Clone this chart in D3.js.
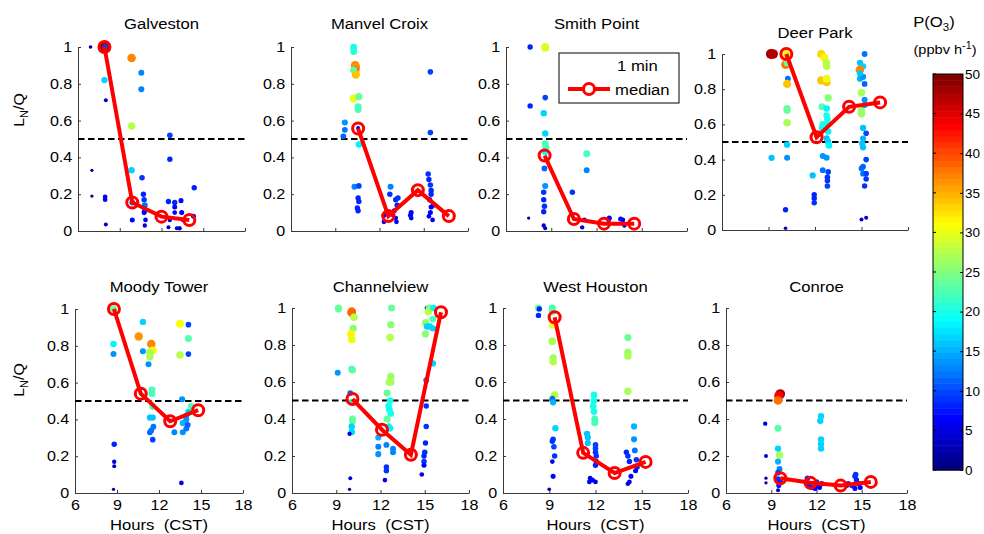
<!DOCTYPE html>
<html><head><meta charset="utf-8">
<script src="https://cdn.jsdelivr.net/npm/d3@7"></script>
<style>body{margin:0;background:#fff;} text{font-family:"Liberation Sans",Arial,Helvetica,sans-serif;fill:#000;}</style>
</head><body><svg id="c" width="984" height="534"></svg>
<script>
// ---------- DATA ----------
const stations = ["Galveston","Manvel Croix","Smith Point","Deer Park","Moody Tower","Channelview","West Houston","Conroe"];
const hourTicks = [6,9,12,15,18];
const ratioTicks = [0,0.2,0.4,0.6,0.8,1];
const colorTicks = [0,5,10,15,20,25,30,35,40,45,50];
const threshold = 0.5;
// dots: [hour, LN/Q, P(O3)]
const galvestonDots = [[6.9,1.0,3],[7.9,1.0,48],[7.95,1.0,10],[7.9,0.82,17],[8.0,0.71,4],[7.0,0.33,2],[7.0,0.19,2],[7.95,0.185,6],[7.95,0.17,6],[8.0,0.035,4],
[9.85,0.94,37],[9.85,0.57,28],[9.85,0.33,17],[9.9,0.155,12],[9.9,0.06,7],
[10.55,0.86,13],[10.55,0.77,13],[10.6,0.29,9],[10.7,0.2,8],[10.75,0.17,9],[10.8,0.14,12],[10.8,0.11,8],[10.75,0.1,7],[10.85,0.06,6],[10.8,0.03,5],
[12.6,0.52,10],[12.6,0.39,8],[12.5,0.16,8],[12.95,0.155,8],[12.95,0.13,7],[12.95,0.1,6],[12.6,0.06,5],[12.5,0.02,4],[13.4,0.165,7],[13.45,0.1,7],[13.55,0.06,6],[13.3,0.015,5],[13.1,0.015,4],
[14.35,0.235,8],[14.3,0.08,7]];
const galvestonMedian = [[7.9,1.0],[9.9,0.155],[12.0,0.078],[14.0,0.06]];

const manvelDots = [[10.25,1.0,20],[10.25,0.99,20],[10.25,0.975,21],[10.35,0.9,37],[10.4,0.89,36],[10.35,0.875,38],[10.25,0.875,22],[10.4,0.85,34],[10.25,0.72,30],[10.6,0.73,24],[10.55,0.675,22],[10.55,0.66,22],
[9.65,0.59,14],[9.65,0.55,12],[9.55,0.515,11],[10.55,0.56,4],[10.6,0.47,18],
[10.3,0.24,13],[10.6,0.245,10],[10.55,0.18,8],[10.6,0.16,8],[10.5,0.125,8],[10.55,0.11,8],
[12.75,0.24,13],[12.7,0.2,9],[13.1,0.17,8],[13.2,0.14,8],[13.0,0.11,7],[12.9,0.09,7],[13.1,0.07,6],[13.15,0.05,6],[12.3,0.05,6],[12.3,0.085,7],[13.25,0.18,9],
[14.15,0.1,7],[14.15,0.07,6],[14.1,0.085,7],
[15.45,0.865,10],[15.45,0.535,10],[15.3,0.31,9],[15.35,0.28,8],[15.45,0.25,9],[15.5,0.22,8],[15.5,0.2,8],[15.4,0.17,8],[15.5,0.13,7],[15.45,0.1,7],[15.6,0.06,6],[15.35,0.08,6],[15.65,0.14,7]];
const manvelMedian = [[10.55,0.557],[12.6,0.081],[14.6,0.222],[16.7,0.081]];

const smithDots = [[7.6,1.0,8],[8.6,1.0,30],[8.6,0.995,29],[7.6,0.68,8],[8.6,0.725,10],[8.5,0.64,17],[8.6,0.53,17],[8.6,0.475,22],[8.65,0.455,22],[8.6,0.43,19],[8.55,0.34,11],[8.6,0.245,14],[8.5,0.21,9],[8.5,0.17,8],[8.55,0.135,9],[8.5,0.105,8],[8.5,0.03,5],[8.6,0.015,4],[7.5,0.07,2],
[11.35,0.42,22],[11.35,0.33,13],[10.4,0.21,9],[11.2,0.06,6],[11.05,0.02,5],
[12.85,0.07,7],[12.8,0.06,6],[13.75,0.06,6],[13.85,0.03,5],[13.6,0.065,7]];
const smithMedian = [[8.56,0.41],[10.5,0.065],[12.5,0.04],[14.5,0.04]];

const deerDots = [[9.15,1.0,48],[9.3,1.0,47],[10.15,1.0,30],[10.1,0.94,38],[10.2,0.95,24],[10.25,0.86,12],[10.2,0.83,34],[10.2,0.69,24],[10.2,0.68,24],[10.2,0.61,27],[10.2,0.485,17],[9.2,0.41,16],[10.2,0.41,14],[10.1,0.115,8],[10.1,0.01,3],
[12.4,1.0,33],[12.6,0.98,32],[12.75,0.95,28],[12.75,0.93,28],[12.4,0.85,34],[12.75,0.84,34],[12.75,0.86,30],[12.85,0.75,25],[12.45,0.7,23],[12.75,0.69,18],[12.75,0.65,20],[12.8,0.63,20],[12.5,0.6,20],[12.75,0.6,19],[12.45,0.58,20],[12.85,0.56,18],[12.75,0.52,16],[12.85,0.5,17],[12.9,0.48,18],
[11.85,0.31,16],[12.5,0.42,14],[12.75,0.41,14],[12.5,0.34,12],[12.85,0.33,10],[12.8,0.3,9],[12.8,0.28,9],[12.8,0.25,10],[11.95,0.2,8],[11.95,0.18,8],[11.95,0.155,9],
[14.9,0.95,16],[15.2,1.0,12],[15.1,0.93,17],[14.9,0.91,37],[14.9,0.86,15],[15.1,0.87,14],[14.9,0.89,16],[15.2,0.83,11],[15.0,0.78,27],[15.0,0.68,26],[15.0,0.66,26],[15.2,0.74,14],[15.2,0.71,14],[15.1,0.58,16],[15.3,0.55,10],[15.1,0.52,15],[15.05,0.49,16],[15.1,0.47,16],[15.3,0.4,10],[15.0,0.35,12],[15.1,0.32,12],[15.3,0.32,10],[15.3,0.29,9],[15.2,0.25,9],[15.0,0.06,4],[15.3,0.07,4],[15.1,0.36,11]];
const deerMedian = [[10.15,1.0],[12.1,0.527],[14.2,0.70],[16.2,0.725]];

const moodyDots = [[8.75,1.0,24],[8.75,0.81,18],[8.75,0.755,14],[8.8,0.265,8],[8.8,0.17,5],[8.8,0.145,4],[8.75,0.02,2],
[10.85,0.93,17],[10.55,0.85,36],[10.85,0.77,14],[11.45,0.81,37],[11.55,0.775,32],[11.35,0.765,27],[11.35,0.74,27],[11.25,0.7,14],[11.5,0.56,22],[11.5,0.54,22],[11.55,0.47,22],[11.35,0.41,16],[11.55,0.41,16],[11.6,0.36,12],[11.35,0.33,11],[11.45,0.34,12],[11.55,0.29,10],
[13.1,0.33,13],[13.5,0.92,31],[13.5,0.75,28],[14.1,0.915,10],[14.1,0.755,10],[14.1,0.84,23],[13.65,0.51,14],[13.7,0.38,15],[13.7,0.33,14],[13.95,0.42,15],[13.95,0.4,14],[13.95,0.35,12],[14.05,0.37,11],[14.1,0.44,16],[14.3,0.47,22],[13.6,0.055,6]];
const moodyMedian = [[8.78,1.0],[10.7,0.54],[12.8,0.39],[14.8,0.45]];

const channelDots = [[9.15,1.0,24],[9.15,0.995,24],[9.1,0.65,14],[10.05,0.98,38],[10.05,0.975,39],[10.2,0.95,28],[10.15,0.89,25],[10.0,0.86,32],[10.05,0.83,30],[10.05,0.67,23],[10.1,0.665,23],[9.95,0.54,11],[10.05,0.49,20],[10.1,0.4,24],[10.1,0.39,24],[10.05,0.36,17],[10.05,0.33,17],[9.9,0.32,5],[9.95,0.08,4],[9.9,0.02,2],
[12.75,1.0,24],[12.7,0.91,25],[12.65,0.84,28],[12.7,0.63,26],[12.7,0.6,27],[12.6,0.6,27],[12.45,0.54,24],[12.65,0.5,20],[12.55,0.47,20],[12.6,0.45,19],[12.7,0.43,20],[12.45,0.4,24],[12.65,0.35,18],[12.55,0.36,18],[11.85,0.3,15],[11.85,0.25,13],[11.85,0.21,14],[12.4,0.26,13],[12.85,0.24,13],[12.85,0.22,13],[12.4,0.14,9],[12.4,0.12,9],[12.3,0.07,6],
[15.15,1.0,6],[15.3,1.0,24],[15.25,0.98,28],[15.05,0.92,26],[15.05,0.86,25],[15.15,0.9,17],[15.35,0.9,17],[15.6,1.0,18],[15.55,0.94,22],[15.55,0.89,17],[15.55,0.7,17],[15.1,0.61,13],[15.1,0.47,9],[15.1,0.36,9],[15.05,0.27,8],[15.0,0.22,9],[14.95,0.2,8],[14.95,0.17,9],[14.95,0.15,7],[14.8,0.1,6]];
const channelMedian = [[10.1,0.508],[12.1,0.342],[14.06,0.207],[16.1,0.977]];

const westDots = [[8.3,1.0,24],[8.35,0.995,8],[8.3,0.96,8],[9.2,1.0,22],[9.2,0.98,23],[9.25,0.91,30],[9.2,0.82,28],[9.2,0.82,27],[9.25,0.73,26],[9.25,0.71,28],[9.35,0.53,28],[9.2,0.51,12],[9.25,0.49,15],[9.4,0.35,17],[9.25,0.29,9],[9.2,0.28,9],[9.3,0.25,10],[9.35,0.2,9],[9.2,0.17,6],[9.25,0.09,7],[9.0,0.02,3],
[11.9,0.53,20],[11.9,0.5,20],[11.85,0.47,20],[11.9,0.44,20],[11.95,0.4,22],[11.95,0.38,22],[11.45,0.32,16],[11.5,0.3,16],[11.5,0.27,16],[12.0,0.26,10],[12.0,0.24,10],[12.0,0.22,9],[12.05,0.2,9],[12.05,0.17,8],[12.0,0.15,8],[11.65,0.08,6],[11.8,0.07,7],[12.0,0.06,6],[11.6,0.06,6],
[14.1,0.84,24],[14.1,0.76,26],[14.1,0.74,27],[14.1,0.55,27],[14.5,0.36,15],[14.5,0.29,14],[14.55,0.23,12],[14.0,0.22,8],[14.1,0.2,9],[14.2,0.17,8],[14.3,0.09,7],[14.2,0.06,6],[14.1,0.05,6],[14.65,0.18,9],[14.7,0.14,8],[14.6,0.12,7]];
const westMedian = [[9.35,0.95],[11.2,0.217],[13.24,0.108],[15.25,0.168]];

const conroeDots = [[8.6,0.375,5],[8.65,0.2,4],[8.65,0.08,2],[8.65,0.055,2],
[9.6,0.535,47],[9.5,0.525,43],[9.45,0.5,38],[9.45,0.35,23],[9.55,0.205,27],[9.45,0.24,17],[9.45,0.17,15],[9.55,0.13,13],[9.45,0.11,10],[9.45,0.075,9],[9.5,0.04,7],[9.45,0.015,4],[9.6,0.06,8],
[11.4,0.08,9],[11.45,0.05,8],[11.7,0.03,7],[12.0,0.04,7],[11.9,0.025,7],[12.2,0.03,7],[12.35,0.05,8],[12.0,0.06,8],[11.5,0.035,8],
[12.3,0.415,17],[12.25,0.39,17],[12.3,0.29,17],[12.3,0.265,17],[12.3,0.24,17],
[14.55,0.09,9],[14.65,0.07,8],[14.8,0.05,8],[14.35,0.04,8],[14.9,0.03,7],[14.55,0.025,7],[14.0,0.04,7],[14.1,0.05,8],[14.6,0.1,9]];
const conroeMedian = [[9.6,0.08],[11.6,0.055],[13.6,0.04],[15.6,0.06]];

const allDots = [galvestonDots,manvelDots,smithDots,deerDots,moodyDots,channelDots,westDots,conroeDots];
const allMedians = [galvestonMedian,manvelMedian,smithMedian,deerMedian,moodyMedian,channelMedian,westMedian,conroeMedian];

// ---------- LAYOUT ----------
const layout = [
  {x0:78,x1:245,yb:231,yt:47,ty:29,bottom:false},
  {x0:291,x1:468,yb:231,yt:47,ty:29,bottom:false},
  {x0:506,x1:687,yb:231,yt:47,ty:29,bottom:false},
  {x0:722,x1:908,yb:230,yt:54,ty:38,bottom:false},
  {x0:75,x1:243,yb:493,yt:309,ty:292,bottom:true},
  {x0:292,x1:469,yb:493,yt:308,ty:292,bottom:true},
  {x0:503,x1:688,yb:493,yt:308,ty:292,bottom:true},
  {x0:726,x1:907,yb:493,yt:308,ty:292,bottom:true}
];
const SX = 1.15; // horizontal stretch of the reference text
const FONT = "'Liberation Sans',Arial,sans-serif";

const svg = d3.select("#c");
const clamp = v => Math.max(0, Math.min(1, v));
function jet(p){
  let idx = Math.max(0, Math.min(63, Math.floor(p/50*64)));
  const t = idx/63;
  const r = clamp(1.5 - Math.abs(4*t-3)), g = clamp(1.5 - Math.abs(4*t-2)), b = clamp(1.5 - Math.abs(4*t-1));
  return d3.rgb(r*255, g*255, b*255).toString();
}
const rScale = d3.scaleLinear().domain([0,8,50]).range([1.3,2.7,5.0]).clamp(true);
const fmtY = d => d===0?"0":d===1?"1":d.toFixed(1);

function stretchTicks(sel, sx){
  sel.selectAll(".tick text").style("font-size","14px").style("font-family",FONT).attr("fill","#000")
    .attr("transform",`scale(${sx},1)`);
}
function label(parent, x, y, size, anchor, sx){
  return parent.append("text").attr("transform",`translate(${x},${y}) scale(${sx||SX},1)`)
    .attr("text-anchor",anchor||"middle").style("font-size",size+"px");
}

stations.forEach((name,i)=>{
  const L = layout[i];
  const x = d3.scaleLinear().domain([6,18]).range([L.x0,L.x1]);
  const y = d3.scaleLinear().domain([0,1]).range([L.yb,L.yt]);
  const g = svg.append("g");
  const ax = d3.axisBottom(x).tickValues(hourTicks).tickSizeInner(-3).tickSizeOuter(0).tickPadding(7)
    .tickFormat(L.bottom ? d3.format("d") : "");
  const gx = g.append("g").attr("transform",`translate(0,${L.yb})`).call(ax);
  const ay = d3.axisLeft(y).tickValues(ratioTicks).tickSizeInner(-3).tickSizeOuter(0).tickPadding(5).tickFormat(fmtY);
  const gy = g.append("g").attr("transform",`translate(${L.x0},0)`).call(ay);
  [gx,gy].forEach(a=>{
    a.select(".domain").attr("stroke","#3a3a3a").attr("stroke-width",1);
    a.selectAll(".tick line").attr("stroke","#3a3a3a");
    stretchTicks(a, SX);
  });
  g.append("line").attr("x1",x(6)).attr("x2",x(18)).attr("y1",y(threshold)).attr("y2",y(threshold))
    .attr("stroke","#000").attr("stroke-width",1.8).attr("stroke-dasharray","6.5,3.5");
  g.append("g").selectAll("circle").data(allDots[i]).join("circle")
    .attr("cx",d=>x(d[0])).attr("cy",d=>y(d[1])).attr("r",d=>rScale(d[2])).attr("fill",d=>jet(d[2]));
  const line = d3.line().x(d=>x(d[0])).y(d=>y(d[1]));
  g.append("path").datum(allMedians[i]).attr("d",line).attr("fill","none").attr("stroke","#ff0000").attr("stroke-width",4);
  g.append("g").selectAll("circle").data(allMedians[i]).join("circle")
    .attr("cx",d=>x(d[0])).attr("cy",d=>y(d[1])).attr("r",5.5).attr("fill","none").attr("stroke","#ff0000").attr("stroke-width",3);
  label(g,(L.x0+L.x1)/2,L.ty,14.5).text(name);
  if(L.bottom){
    label(g,(L.x0+L.x1)/2,530,14.5).attr("xml:space","preserve").text("Hours  (CST)");
  }
});

// y labels
[110,380].forEach(cy=>{
  const t = svg.append("text").attr("transform",`translate(24,${cy}) rotate(-90) scale(1.1,1)`).attr("text-anchor","middle").style("font-size","14.5px");
  t.append("tspan").text("L");
  t.append("tspan").attr("dy",4).style("font-size","10px").text("N");
  t.append("tspan").attr("dy",-4).text("/Q");
});

// legend
const lg = svg.append("g");
lg.append("rect").attr("x",559).attr("y",53).attr("width",120).attr("height",50).attr("fill","#fff").attr("stroke","#000").attr("stroke-width",1);
label(lg,617,71,14.5,"start").text("1 min");
lg.append("line").attr("x1",568).attr("x2",610).attr("y1",89).attr("y2",89).attr("stroke","#ff0000").attr("stroke-width",4);
lg.append("circle").attr("cx",589).attr("cy",89).attr("r",5.5).attr("fill","#fff").attr("stroke","#ff0000").attr("stroke-width",3);
label(lg,615,95,14.5,"start").text("median");

// colorbar
const cb = {x:933,w:30,top:74,bot:470};
const cy = d3.scaleLinear().domain([0,50]).range([cb.bot,cb.top]);
const levels = d3.range(64);
svg.append("g").selectAll("rect").data(levels).join("rect")
  .attr("x",cb.x).attr("width",cb.w)
  .attr("y",d=>cy((d+1)*50/64)).attr("height",d=>cy(d*50/64)-cy((d+1)*50/64)+0.5)
  .attr("fill",d=>jet((d+0.5)*50/64));
svg.append("rect").attr("x",cb.x).attr("y",cb.top).attr("width",cb.w).attr("height",cb.bot-cb.top).attr("fill","none").attr("stroke","#000");
const cax = d3.axisRight(cy).tickValues(colorTicks).tickSizeInner(-3).tickSizeOuter(0).tickPadding(2).tickFormat(d3.format("d"));
const gc = svg.append("g").attr("transform",`translate(${cb.x+cb.w},0)`).call(cax);
gc.select(".domain").remove();
gc.selectAll(".tick line").attr("stroke","#000");
stretchTicks(gc, 1.0);
gc.selectAll(".tick text").style("font-size","13.5px");
svg.append("g").selectAll("line").data(colorTicks).join("line")
  .attr("x1",cb.x).attr("x2",cb.x+3).attr("y1",d=>cy(d)).attr("y2",d=>cy(d)).attr("stroke","#000");
const t1 = label(svg,934,27,14.5);
t1.append("tspan").text("P(O");
t1.append("tspan").attr("dy",4).style("font-size","10px").text("3");
t1.append("tspan").attr("dy",-4).text(")");
const t2 = label(svg,945,54,13.5,"middle",1.08);
t2.append("tspan").text("(ppbv h");
t2.append("tspan").attr("dy",-5).style("font-size","10px").text("-1");
t2.append("tspan").attr("dy",5).text(")");
</script></body></html>
